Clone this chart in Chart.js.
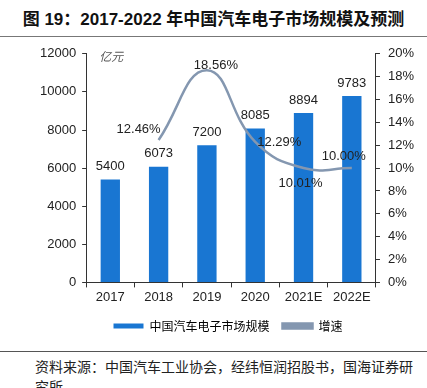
<!DOCTYPE html>
<html>
<head>
<meta charset="utf-8">
<script src="https://cdn.jsdelivr.net/npm/chart.js@4/dist/chart.umd.min.js"></script>
<style>
  body { margin: 0; background: #fff; font-family: 'Liberation Sans', Arial, sans-serif; }
  #wrap { position: relative; width: 427px; height: 388px; overflow: hidden; }
  #title { position: absolute; left: 0; top: 5px; width: 427px; text-align: center; font-weight: bold; font-size: 17px; color: #111; font-family: 'Liberation Sans', 'Noto Sans CJK SC', sans-serif; }
  #topline { position: absolute; left: 0; top: 36px; width: 427px; height: 1px; background: #777; }
  #chartBox { position: absolute; left: 0; top: 38px; width: 427px; height: 304px; }
  #botline { position: absolute; left: 0; top: 351px; width: 427px; height: 1px; background: #555; }
  #source { position: absolute; left: 35px; top: 356px; width: 386px; font-size: 14px; line-height: 20px; color: #222; font-family: 'Noto Sans CJK SC', sans-serif; }
</style>
</head>
<body>
<div id="wrap">
  <div id="title">图 19：2017-2022 年中国汽车电子市场规模及预测</div>
  <div id="topline"></div>
  <div id="chartBox"><canvas id="chart"></canvas></div>
  <div id="botline"></div>
  <div id="source">资料来源：中国汽车工业协会，经纬恒润招股书，国海证券研究所</div>
</div>
<script>
// data
const years = ['2017', '2018', '2019', '2020', '2021E', '2022E'];
const marketSize = [5400, 6073, 7200, 8085, 8894, 9783];
const growth = [null, 12.46, 18.56, 12.29, 10.01, 10.00];

// where each growth label sits relative to its point (dx, dy)
const growthLabelShift = [null, [-20, -11], [9, -5], [24, 0], [-3, 15], [-8, -12]];

const barColor = '#1976D2';
const lineColor = '#8497B0';

const labelPlugin = {
  id: 'valueLabels',
  afterDatasetsDraw(chart) {
    const ctx = chart.ctx;
    ctx.save();
    ctx.font = '13px "Liberation Sans", Arial, sans-serif';
    ctx.fillStyle = '#222';
    ctx.textAlign = 'center';
    ctx.textBaseline = 'middle';
    chart.getDatasetMeta(0).data.forEach((bar, i) => {
      ctx.fillText(String(marketSize[i]), bar.x, bar.y - 13);
    });
    chart.getDatasetMeta(1).data.forEach((pt, i) => {
      if (growth[i] == null) return;
      const s = growthLabelShift[i];
      ctx.fillText(growth[i].toFixed(2) + '%', pt.x + s[0], pt.y + s[1]);
    });
    // unit label
    const a = chart.chartArea;
    ctx.font = 'italic 12px "Noto Sans CJK SC", sans-serif';
    ctx.fillStyle = '#555';
    ctx.textAlign = 'left';
    ctx.fillText('亿元', a.left + 13, a.top + 3);
    ctx.restore();
  }
};

new Chart(document.getElementById('chart'), {
  data: {
    labels: years,
    datasets: [
      {
        type: 'bar',
        label: '中国汽车电子市场规模',
        data: marketSize,
        backgroundColor: barColor,
        yAxisID: 'y',
        barPercentage: 0.8,
        categoryPercentage: 0.5,
        order: 2
      },
      {
        type: 'line',
        label: '增速',
        data: growth,
        borderColor: lineColor,
        backgroundColor: lineColor,
        borderWidth: 2.5,
        pointRadius: 0,
        tension: 0.45,
        yAxisID: 'y1',
        order: 1
      }
    ]
  },
  options: {
    responsive: true,
    maintainAspectRatio: false,
    animation: false,
    layout: { padding: { left: 34, right: 5, top: 15, bottom: 0 } },
    plugins: {
      tooltip: { enabled: false },
      legend: {
        position: 'bottom',
        labels: {
          font: { family: "'Noto Sans CJK SC', sans-serif", size: 12 },
          color: '#333',
          padding: 13,
          generateLabels(chart) {
            return chart.data.datasets.map((ds, i) => ({
              text: ds.label,
              fillStyle: i === 0 ? barColor : lineColor,
              strokeStyle: i === 0 ? barColor : lineColor,
              lineWidth: i === 0 ? 0 : 2.5,
              datasetIndex: i
            }));
          },
          boxWidth: 30,
          boxHeight: 5
        }
      }
    },
    scales: {
      x: {
        grid: { display: true, drawOnChartArea: false, color: '#333', tickLength: 5, offset: true },
        border: { color: '#333' },
        ticks: { color: '#222', font: { size: 13, family: "'Liberation Sans', Arial" }, padding: 2 }
      },
      y: {
        position: 'left',
        min: 0,
        max: 12000,
        grid: { drawOnChartArea: false, color: '#333', tickLength: 4 },
        border: { color: '#333' },
        ticks: {
          stepSize: 2000,
          color: '#222',
          font: { size: 13, family: "'Liberation Sans', Arial" },
          padding: 6,
          callback: v => String(v)
        }
      },
      y1: {
        position: 'right',
        min: 0,
        max: 20,
        grid: { drawOnChartArea: false, color: '#333', tickLength: 4 },
        border: { color: '#333' },
        ticks: {
          stepSize: 2,
          color: '#222',
          font: { size: 13, family: "'Liberation Sans', Arial" },
          padding: 8,
          callback: v => v + '%'
        }
      }
    }
  },
  plugins: [labelPlugin]
});
</script>
</body>
</html>
